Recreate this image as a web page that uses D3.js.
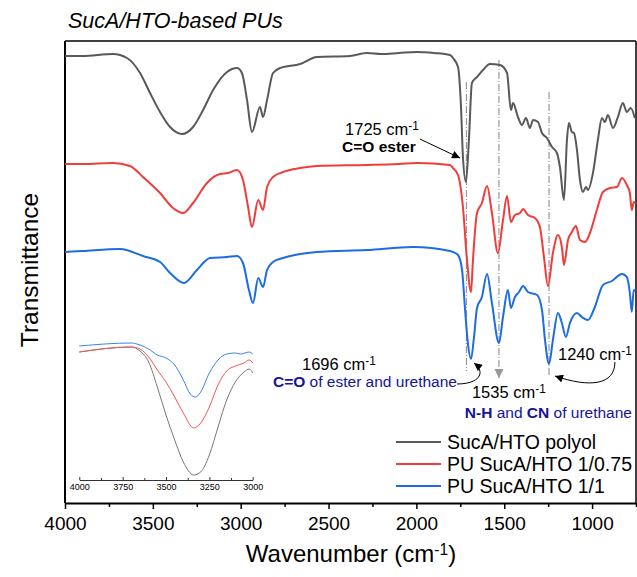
<!DOCTYPE html>
<html>
<script src='https://d3js.org/d3.v7.min.js'></script>
<style>
 body {margin:0; background:#fff;}
 text {font-family:'Liberation Sans', Arial, sans-serif;}
</style>
<body onload='init()'>
<svg width=637 height=577></svg>
<script>
// main spectra: wavenumber (cm-1) and transmittance (a.u., offset)
var wnGray = [4000,3900,3727,3647,3573,3516,3459,3402,3334,3271,3214,3157,3078,3021,2993,2964,2936,2890,2873,2850,2816,2776,2662,2566,2378,2281,2200,2100,1997,1900,1809,1792,1763,1746,1735,1718,1701,1684,1655,1621,1581,1524,1484,1462,1450,1422,1399,1376,1354,1336,1308,1285,1257,1228,1200,1183,1160,1143,1132,1115,1103,1086,1069,1052,1035,1023,995,967,944,927,910,881,853,825,802,780,757];
var tGray  = [223.5,223.5,224.5,222.5,215,205,195.5,188,184.5,188,196.5,206.5,215.5,217.5,215,201.5,185.5,198,193,201.5,215,217.5,219.5,223,223.5,225,224.5,225,225.5,225,224,222.5,218,198,173,160.5,181.5,210,213,216.5,219.5,219,215,196.5,200,193,189,192.5,187.5,191.5,190.5,185,182.5,178,175,168,151.5,181.5,190,185.5,185,176.5,161.5,155.5,158,156.5,165,181.5,192.5,190.5,194,187.5,193,200,195.5,197.5,192.5];

var wnRed = [4000,3900,3727,3630,3556,3459,3385,3328,3271,3192,3118,3072,3021,2987,2958,2936,2900,2873,2850,2816,2759,2662,2566,2281,2100,1997,1809,1792,1763,1735,1712,1689,1678,1655,1627,1598,1570,1536,1507,1484,1462,1439,1410,1393,1365,1325,1297,1274,1251,1223,1194,1172,1160,1137,1115,1092,1069,1040,1012,973,938,898,858,830,802,785,774,763,754];
var tRed  = [169.5,169.5,170,168.5,163,155,147.5,145,150,160,164.5,165,166.5,161.5,148,138,151.5,146.5,158,163,165.5,167.5,168.5,169,169.5,170,169,167.5,164,148,121.5,105.5,121.5,145,150,158.5,145,125,141.5,153.5,140.5,144,145,147,144,142.5,138,123,108.5,125,134,128,119,131.5,135.5,138.5,131.5,130.5,135,146.5,155.5,157.5,158,162.5,159,155,146.5,150.5,150];

var wnBlue = [4000,3900,3687,3556,3459,3402,3323,3249,3175,3078,3021,2987,2953,2930,2900,2873,2850,2816,2759,2662,2566,2281,2019,1809,1792,1763,1740,1724,1707,1689,1672,1655,1627,1598,1570,1530,1507,1479,1462,1439,1416,1393,1365,1313,1285,1268,1245,1223,1194,1172,1149,1126,1086,1058,1023,984,938,887,830,802,785,774,763,754];
var tBlue  = [125.5,126,127,123.5,120.5,115,110,116.5,122.5,123,123.5,120,106.5,100,112.5,108,116.5,120.5,122.5,124.5,125.5,126.5,128,126,125.5,124,116.5,98,80,72,83,97.5,103,114.5,100,80,93,106.5,97.5,103,105.5,108.5,105.5,104,96.5,81.5,69.5,81.5,95,90,83,90,95,93,91.5,98,109,111,114.5,113,105,95.5,106.5,106];

// inset: O-H / N-H region
var wnInset = [4000,3700,3650,3600,3550,3500,3450,3400,3340,3300,3250,3200,3150,3100,3050,3020,3000];
var tInsetGray = [64,66.5,64.5,59,46.5,32.5,20,9,2.5,4,12.5,26.5,40,49,54,55.5,53.5];
var tInsetRed  = [64,66.5,65.5,61.5,55,49,41.5,33.5,26,28.5,36.5,47.5,54.5,57,58.5,60,58.5];
var wnInsetBlue = [4000,3700,3650,3600,3550,3500,3450,3400,3360,3330,3300,3250,3200,3150,3100,3070,3020,3000];
var tInsetBlue = [67,68.5,67.5,65.5,62.5,61,57.5,50,43,41.5,44,53.5,60,63,63.5,63,64,63];

var seriesNames = ['SucA/HTO polyol', 'PU SucA/HTO 1/0.75', 'PU SucA/HTO 1/1'];
var seriesColors = ['#595959', '#f23b3b', '#1c6ce3'];
var xTicks = [4000,3500,3000,2500,2000,1500,1000];
var insetTicks = [4000,3750,3500,3250,3000];

// reference lines: wavenumber, top value, bottom value
var refWn = [1715, 1530, 1245];
var refTop = [210.5, 221.5, 205.5];
var refBottom = [66, 62.5, 63];

function cm(sel, num) {
 sel.append('tspan').text(num + ' cm');
 sel.append('tspan').attr('dy', '-0.45em').attr('font-size', '0.72em').text('-1');
}

function init() {
 var svg = d3.select('svg');
 var x = d3.scaleLinear().domain([4000, 750]).range([65, 636]);
 var y = d3.scaleLinear().domain([0, 231]).range([503, 41]);

 // frame
 svg.append('line').attr('x1', 65).attr('x2', 636).attr('y1', 41).attr('y2', 41).attr('stroke', '#000').attr('stroke-width', 1.5);
 svg.append('line').attr('x1', 636).attr('x2', 636).attr('y1', 41).attr('y2', 503).attr('stroke', '#000').attr('stroke-width', 1.5);
 svg.append('line').attr('x1', 65).attr('x2', 65).attr('y1', 41).attr('y2', 503).attr('stroke', '#000').attr('stroke-width', 2);

 // minor ticks
 svg.append('g').attr('transform', 'translate(0,503)')
  .call(d3.axisBottom(x).tickValues([3750,3250,2750,2250,1750,1250,750]).tickSize(4).tickFormat(''))
  .call(g => g.select('.domain').remove())
  .selectAll('line').attr('stroke-width', 1.5);
 var xa = svg.append('g').attr('transform', 'translate(0,503)')
  .call(d3.axisBottom(x).tickValues(xTicks).tickSizeInner(6).tickSizeOuter(0).tickPadding(8).tickFormat(d3.format('d')));
 xa.select('.domain').attr('stroke-width', 2);
 xa.selectAll('line').attr('stroke-width', 1.5);
 xa.selectAll('text').attr('font-size', 19).attr('fill', '#000').style('font-family', "'Liberation Sans', Arial, sans-serif");

 // axis titles
 var xt = svg.append('text').attr('x', 351).attr('y', 562).attr('text-anchor', 'middle').attr('font-size', 24);
 xt.append('tspan').text('Wavenumber (cm');
 xt.append('tspan').attr('dy', '-0.45em').attr('font-size', '0.65em').text('-1');
 xt.append('tspan').attr('dy', '0.29em').text(')');
 svg.append('text').attr('transform', 'translate(38,270) rotate(-90)').attr('text-anchor', 'middle')
  .attr('font-size', 24.5).text('Transmittance');
 svg.append('text').attr('x', 68).attr('y', 28).attr('font-size', 21.5).attr('font-style', 'italic')
  .text('SucA/HTO-based PUs');

 // reference dash-dot lines
 svg.append('defs').append('marker').attr('id', 'grayhead').attr('viewBox', '0 0 10 10')
  .attr('refX', 10).attr('refY', 5).attr('markerWidth', 9).attr('markerHeight', 9).attr('markerUnits', 'userSpaceOnUse')
  .attr('orient', 'auto').append('path').attr('d', 'M0,0L10,5L0,10Z').attr('fill', '#999');
 svg.select('defs').append('marker').attr('id', 'blackhead').attr('viewBox', '0 0 10 10')
  .attr('refX', 10).attr('refY', 5).attr('markerWidth', 10).attr('markerHeight', 8).attr('markerUnits', 'userSpaceOnUse')
  .attr('orient', 'auto').append('path').attr('d', 'M0,0L10,5L0,10Z').attr('fill', '#000');
 refWn.forEach(function (w, i) {
  svg.append('line').attr('x1', x(w)).attr('x2', x(w)).attr('y1', y(refTop[i])).attr('y2', y(refBottom[i]))
   .attr('stroke', '#999').attr('stroke-width', 1.2).attr('stroke-dasharray', '7,2,1,2')
   .attr('marker-end', i == 1 ? 'url(#grayhead)' : null);
 });

 // spectra
 var line = d3.line().x(d => x(d[0])).y(d => y(d[1])).curve(d3.curveMonotoneX);
 [[wnGray, tGray], [wnRed, tRed], [wnBlue, tBlue]].forEach(function (s, i) {
  svg.append('path').datum(d3.zip(s[0], s[1])).attr('d', line)
   .attr('fill', 'none').attr('stroke', seriesColors[i]).attr('stroke-width', 2);
 });

 // annotations
 var t1 = svg.append('text').attr('x', x(2406)).attr('y', y(184)).attr('font-size', 16.5);
 cm(t1, '1725');
 svg.append('text').attr('x', x(2423)).attr('y', y(175.5)).attr('font-size', 15.5).attr('font-weight', 'bold').text('C=O ester');
 svg.append('line').attr('x1', x(1980)).attr('y1', y(182)).attr('x2', x(1752)).attr('y2', y(172.5))
  .attr('stroke', '#000').attr('stroke-width', 1).attr('marker-end', 'url(#blackhead)');

 var t2 = svg.append('text').attr('x', x(2651)).attr('y', y(66.5)).attr('font-size', 16.5);
 cm(t2, '1696');
 var t3 = svg.append('text').attr('x', x(1769)).attr('y', y(58)).attr('font-size', 15.5).attr('text-anchor', 'end').attr('fill', '#14149a');
 t3.append('tspan').attr('font-weight', 'bold').text('C=O');
 t3.append('tspan').text(' of ester and urethane');
 var t4 = svg.append('text').attr('x', x(1684)).attr('y', y(52.5)).attr('font-size', 16.5);
 cm(t4, '1535');
 var t5 = svg.append('text').attr('x', x(773)).attr('y', y(42.5)).attr('font-size', 15.5).attr('text-anchor', 'end').attr('fill', '#14149a');
 t5.append('tspan').attr('font-weight', 'bold').text('N-H');
 t5.append('tspan').text(' and ');
 t5.append('tspan').attr('font-weight', 'bold').text('CN');
 t5.append('tspan').text(' of urethane');
 var t6 = svg.append('text').attr('x', x(1194)).attr('y', y(71.5)).attr('font-size', 16.5);
 cm(t6, '1240');

 var p1 = d3.path();
 p1.moveTo(x(1769), y(59.5));
 p1.bezierCurveTo(x(1645), y(59.5), x(1600), y(65), x(1672), y(70));
 svg.append('path').attr('d', p1.toString()).attr('fill', 'none').attr('stroke', '#000').attr('stroke-width', 1)
  .attr('marker-end', 'url(#blackhead)');
 var p2 = d3.path();
 p2.moveTo(x(870), y(70.5));
 p2.bezierCurveTo(x(870), y(59), x(1012), y(57.5), x(1211), y(63.5));
 svg.append('path').attr('d', p2.toString()).attr('fill', 'none').attr('stroke', '#000').attr('stroke-width', 1)
  .attr('marker-end', 'url(#blackhead)');

 // inset
 var xi = d3.scaleLinear().domain([4000, 3000]).range([79.3, 252.7]);
 var yi = d3.scaleLinear().domain([0, 75]).range([480, 330]);
 svg.append('g').attr('transform', 'translate(0,480)')
  .call(d3.axisBottom(xi).tickValues([3875,3625,3375,3125]).tickSize(-2).tickFormat(''))
  .call(g => g.select('.domain').remove())
  .selectAll('line').attr('stroke', '#333');
 var ia = svg.append('g').attr('transform', 'translate(0,480)')
  .call(d3.axisBottom(xi).tickValues(insetTicks).tickSizeInner(-3).tickSizeOuter(0).tickPadding(4).tickFormat(d3.format('d')));
 ia.select('.domain').attr('stroke', '#333');
 ia.selectAll('line').attr('stroke', '#333');
 ia.selectAll('text').attr('font-size', 9).attr('fill', '#000').style('font-family', "'Liberation Sans', Arial, sans-serif");
 var lineI = d3.line().x(d => xi(d[0])).y(d => yi(d[1])).curve(d3.curveMonotoneX);
 var insetColors = ['#777', '#f45555', '#3c82ec'];
 [[wnInset, tInsetGray], [wnInset, tInsetRed], [wnInsetBlue, tInsetBlue]].forEach(function (s, i) {
  svg.append('path').datum(d3.zip(s[0], s[1])).attr('d', lineI)
   .attr('fill', 'none').attr('stroke', insetColors[i]).attr('stroke-width', 1);
 });

 // legend
 var lg = svg.append('g').attr('transform', 'translate(396,442)');
 seriesNames.forEach(function (n, i) {
  lg.append('line').attr('x1', 0).attr('x2', 45).attr('y1', i * 22).attr('y2', i * 22)
   .attr('stroke', seriesColors[i]).attr('stroke-width', 2);
  lg.append('text').attr('x', 51).attr('y', i * 22 + 7).attr('font-size', 19.5).text(n);
 });
}
</script>
</body>
</html>
